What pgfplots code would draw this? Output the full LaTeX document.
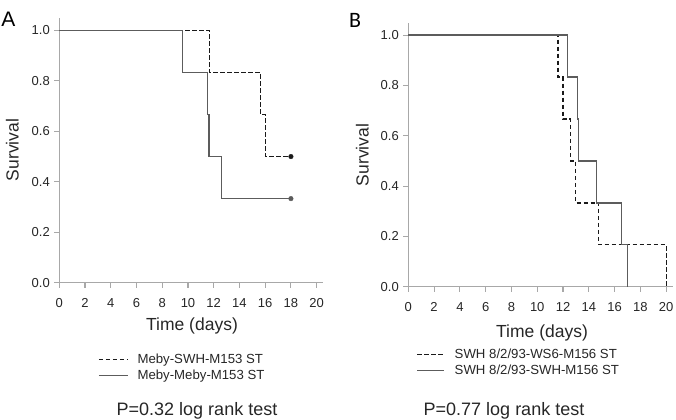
\documentclass[border=0pt]{standalone}
\usepackage{fontspec}
\setmainfont{Liberation Sans}
\newfontfamily\panelfont{Carlito}
\usepackage{pgfplots}
\pgfplotsset{compat=1.18}

\definecolor{axisgray}{HTML}{A8A8A8}
\definecolor{labelgray}{HTML}{262626}
\definecolor{solidgray}{HTML}{5C5C5C}
\definecolor{dashblack}{HTML}{1A1A1A}

\pgfplotsset{
  km/.style={
    scale only axis,
    xmin=0, ymin=0,
    axis lines=left,
    axis line style={axisgray, line width=1.2bp, -},
    xtick={0,2,4,6,8,10,12,14,16,18,20},
    ytick={0,0.2,0.4,0.6,0.8,1},
    tick align=outside,
    major tick length=5bp,
    tick style={axisgray, line width=1.1bp},
    /pgf/number format/assume math mode=true,
    yticklabel style={/pgf/number format/fixed,
      /pgf/number format/fixed zerofill,
      /pgf/number format/precision=1, xshift=-1bp},
    xticklabel style={yshift=-7bp},
    ticklabel style={font=\fontsize{13bp}{15bp}\selectfont, text=labelgray},
    label style={font=\fontsize{17.5bp}{20bp}\selectfont, text=labelgray},
    const plot,
    clip=false,
    legend cell align=left,
    legend style={draw=none, fill=none,
      font=\fontsize{13.2bp}{15bp}\selectfont, text=labelgray,
      row sep=1bp, inner sep=0pt},
    legend image code/.code={\draw[##1] (0bp,0bp) -- (29bp,0bp); \path (36bp,0bp);},
  },
  dashedline/.style={dashblack, line width=1.3bp, dash pattern=on 4.5bp off 2.5bp},
  solidline/.style={solidgray, line width=1.3bp},
}

\begin{document}
\begin{tikzpicture}
\path[use as bounding box] (0,0) rectangle (676bp,-420bp);

% Panel A
\begin{axis}[
  km,
  at={(59.3bp,-282.7bp)}, anchor=south west,
  width=263.8bp, height=264.4bp,
  xmax=20.5, ymax=1.048,
  xlabel={Time (days)}, ylabel={Survival},
  xlabel style={at={(axis description cs:0.503,-0.165)}, anchor=center},
  ylabel style={at={(axis description cs:-0.178,0.502)}, anchor=center},
  legend style={at={(axis description cs:0.147,-0.26)}, anchor=north west},
]
\addplot[dashedline] coordinates {(0,1) (11.65,0.8333) (15.62,0.6667) (16.03,0.5) (18,0.5)};
\addlegendentry{Meby-SWH-M153 ST}
\addplot[solidline] coordinates {(0,1) (9.59,0.8333) (11.5,0.6667) (11.63,0.5) (12.62,0.3333) (18,0.3333)};
\addlegendentry{Meby-Meby-M153 ST}
\addplot[only marks, mark=*, mark size=2.3bp, dashblack, forget plot] coordinates {(18,0.5)};
\addplot[only marks, mark=*, mark size=2.3bp, solidgray, forget plot] coordinates {(18,0.3333)};
\end{axis}

% Panel B
\begin{axis}[
  km,
  at={(408.3bp,-286.7bp)}, anchor=south west,
  width=264.3bp, height=263.9bp,
  xmax=20.5, ymax=1.049,
  xlabel={Time (days)}, ylabel={Survival},
  xlabel style={at={(axis description cs:0.506,-0.175)}, anchor=center},
  ylabel style={at={(axis description cs:-0.174,0.499)}, anchor=center},
  legend style={at={(axis description cs:0.03,-0.228)}, anchor=north west},
  legend image code/.code={\draw[#1] (0bp,0bp) -- (27bp,0bp); \path (35bp,0bp);},
]
\addplot[dashedline] coordinates {(0,1) (11.6,0.8333) (11.99,0.6667) (12.58,0.5) (12.97,0.3333) (14.75,0.1667) (20,0)};
\addlegendentry{SWH 8/2/93-WS6-M156 ST}
\addplot[solidline] coordinates {(0,1) (12.37,0.8333) (13.1,0.6667) (13.18,0.5) (14.57,0.3333) (16.51,0.1667) (17,0)};
\addlegendentry{SWH 8/2/93-SWH-M156 ST}
\end{axis}

% Panel letters and test results
\node[font=\fontsize{21bp}{23bp}\selectfont, text=black] at (8.5bp,-19bp) {A};
\node[font=\panelfont\fontsize{22bp}{24bp}\selectfont, text=black] at (355bp,-20bp) {B};
\node[anchor=base, font=\fontsize{18bp}{20bp}\selectfont, text=labelgray] at (197bp,-415.5bp) {P=0.32 log rank test};
\node[anchor=base, font=\fontsize{18bp}{20bp}\selectfont, text=labelgray] at (504bp,-415.5bp) {P=0.77 log rank test};
\end{tikzpicture}
\end{document}
